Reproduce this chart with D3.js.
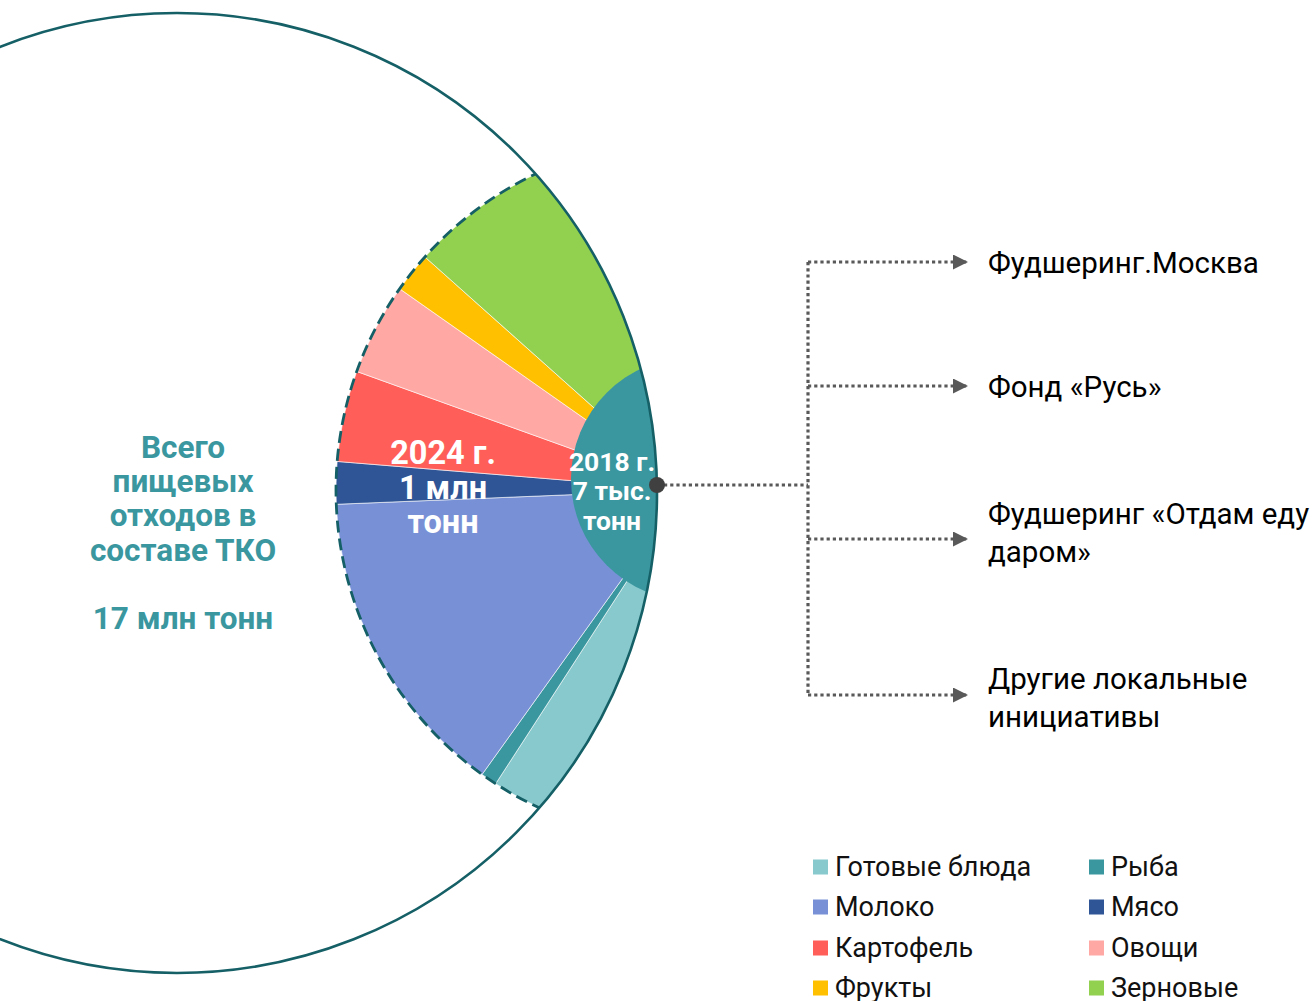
<!DOCTYPE html>
<html>
<head>
<meta charset="utf-8">
<script src="https://cdn.jsdelivr.net/npm/d3@7"></script>
<style>
  html, body { margin: 0; padding: 0; background: #fff; }
  svg { display: block; }
  text { font-family: Roboto, "Noto Sans", sans-serif; }
</style>
</head>
<body>
<svg id="chart" width="1316" height="1001"></svg>
<script>
// ---- data ----
const categories = ["Готовые блюда", "Рыба", "Молоко", "Мясо", "Картофель", "Овощи", "Фрукты", "Зерновые"];
const shares = [18.3, 1.5, 28.9, 3.9, 8.4, 8.5, 3.7, 26.8];   // % of food waste composition
const colors = ["#87c9cd", "#3a979f", "#7891d6", "#2f5597", "#ff5f58", "#ffa8a4", "#ffc000", "#92d050"];
const legendOrder = [[0, 1], [2, 3], [4, 5], [6, 7]];
const totalLabel = ["Всего", "пищевых", "отходов в", "составе ТКО", "", "17 млн тонн"];
const label2024 = ["2024 г.", "1 млн", "тонн"];
const label2018 = ["2018 г.", "7 тыс.", "тонн"];
const initiatives = [["Фудшеринг.Москва"], ["Фонд «Русь»"], ["Фудшеринг «Отдам еду", "даром»"], ["Другие локальные", "инициативы"]];

// ---- layout ----
const svg = d3.select("#chart");
const big = { cx: 177, cy: 493, r: 480 };
const pieC = { x: 686, y: 490, r: 350 };
const small = { x: 693, y: 479, r: 122 };
const dark = "#155f66";

const defs = svg.append("defs");
defs.append("clipPath").attr("id", "bigClip")
  .append("circle").attr("cx", big.cx).attr("cy", big.cy).attr("r", big.r);
defs.append("marker").attr("id", "arrow").attr("viewBox", "0 0 10 10")
  .attr("refX", 10).attr("refY", 5).attr("markerWidth", 18).attr("markerHeight", 15)
  .attr("markerUnits", "userSpaceOnUse").attr("orient", "auto")
  .append("path").attr("d", "M0,0 L10,5 L0,10 Z").attr("fill", "#595959");

const clipped = svg.append("g").attr("clip-path", "url(#bigClip)");
const pieG = clipped.append("g").attr("transform", `translate(${pieC.x},${pieC.y})`);

const pie = d3.pie().sort(null).value(d => d).startAngle(Math.PI).endAngle(2 * Math.PI);
const arc = d3.arc().innerRadius(0).outerRadius(pieC.r);
pieG.selectAll("path.slice").data(pie(shares)).join("path")
  .attr("class", "slice")
  .attr("d", arc)
  .attr("fill", (d, i) => colors[i])
  .attr("stroke", "#ffffff").attr("stroke-width", 0.6);

// 2018 circle
clipped.append("circle").attr("cx", small.x).attr("cy", small.y).attr("r", small.r).attr("fill", "#3a979f");

// dashed outer rim (single pass, from bottom going round the left side to the top)
const rim = d3.path();
rim.arc(pieC.x, pieC.y, pieC.r, Math.PI / 2 - 0.3, 1.5 * Math.PI + 0.3, false);
svg.append("path").attr("d", rim.toString())
  .attr("fill", "none").attr("stroke", dark).attr("stroke-width", 2.8)
  .attr("stroke-dasharray", "12,6")
  .attr("clip-path", "url(#bigClip)");

// big circle outline
svg.append("circle").attr("cx", big.cx).attr("cy", big.cy).attr("r", big.r)
  .attr("fill", "none").attr("stroke", dark).attr("stroke-width", 2.6);

// labels in wedge
const y2024 = [453, 488, 522];
svg.append("g").selectAll("text").data(label2024).join("text")
  .attr("x", 443).attr("y", (d, i) => y2024[i]).attr("dy", "0.35em")
  .attr("text-anchor", "middle").attr("fill", "#fff").attr("font-weight", 700)
  .attr("font-size", 32.5).text(d => d);

const y2018 = [462, 491, 521];
svg.append("g").selectAll("text").data(label2018).join("text")
  .attr("x", 612).attr("y", (d, i) => y2018[i]).attr("dy", "0.35em")
  .attr("text-anchor", "middle").attr("fill", "#fff").attr("font-weight", 700)
  .attr("font-size", 26.5).text(d => d);

// total label
svg.append("g").selectAll("text").data(totalLabel).join("text")
  .attr("x", 183).attr("y", (d, i) => 447 + i * 34.2).attr("dy", "0.35em")
  .attr("text-anchor", "middle").attr("fill", "#3a979f").attr("font-weight", 700)
  .attr("font-size", 31.5).text(d => d);

// connectors
const conn = svg.append("g").attr("stroke", "#595959").attr("stroke-width", 3.2)
  .attr("stroke-dasharray", "3.2,3").attr("fill", "none");
const vx = 808;
const rowY = [262, 386, 539, 695];
conn.append("line").attr("x1", 664).attr("y1", 485).attr("x2", vx).attr("y2", 485);
conn.append("line").attr("x1", vx).attr("y1", rowY[0]).attr("x2", vx).attr("y2", rowY[3]);
rowY.forEach(y => {
  conn.append("line").attr("x1", vx).attr("y1", y).attr("x2", 968).attr("y2", y)
    .attr("marker-end", "url(#arrow)");
});
svg.append("circle").attr("cx", 657).attr("cy", 485).attr("r", 8).attr("fill", "#404040");

const textY = [[263], [387], [514, 552], [679, 717]];
initiatives.forEach((lines, i) => {
  svg.append("g").selectAll("text").data(lines).join("text")
    .attr("x", 988).attr("y", (d, j) => textY[i][j]).attr("dy", "0.35em")
    .attr("fill", "#000").attr("font-size", 29.5).text(d => d);
});

// legend
const legX = [813, 1089];
const legY = [867, 907, 948, 988];
const leg = svg.append("g");
legendOrder.forEach((row, r) => {
  row.forEach((ci, c) => {
    leg.append("rect").attr("x", legX[c]).attr("y", legY[r] - 7.5).attr("width", 15).attr("height", 15)
      .attr("fill", colors[ci]);
    leg.append("text").attr("x", legX[c] + 22).attr("y", legY[r]).attr("dy", "0.35em")
      .attr("font-size", 27).attr("fill", "#111").text(categories[ci]);
  });
});
</script>
</body>
</html>
